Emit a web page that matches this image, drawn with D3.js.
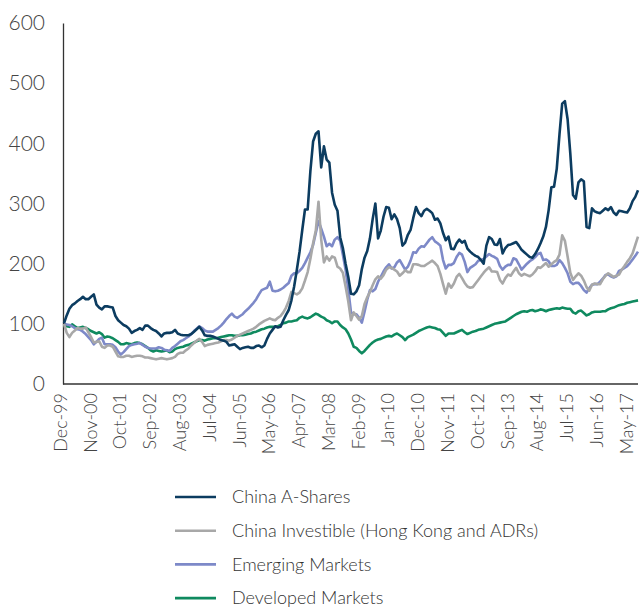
<!DOCTYPE html>
<html><head><meta charset="utf-8">
<script src="https://cdn.jsdelivr.net/npm/d3@7"></script>
<style>
html,body{margin:0;padding:0;background:#fff;}
svg{display:block;font-family:"Lato","Open Sans",sans-serif;font-weight:300;}
</style></head>
<body><svg id="c" width="640" height="607"></svg>
<script>
// Monthly index values, Dec-99 = 100, through Aug-17
const tickLabels = ["Dec-99","Nov-00","Oct-01","Sep-02","Aug-03","Jul-04","Jun-05","May-06","Apr-07","Mar-08","Feb-09","Jan-10","Dec-10","Nov-11","Oct-12","Sep-13","Aug-14","Jul-15","Jun-16","May-17"];
const yTicks = [0,100,200,300,400,500,600];
const seriesNames = ["China A-Shares","China Investible (Hong Kong and ADRs)","Emerging Markets","Developed Markets"];

const chinaA = [101,114,125,131,134,138,141,145,141,141,145,149,132,127,124,129,129,128,127,113,106,102,98,96,92,85,88,90,93,90,97,97,93,90,88,84,79,84,85,85,86,90,84,82,81,81,81,83,87,91,95,89,81,80,80,79,77,75,73,72,70,64,65,66,62,58,60,61,62,60,60,63,64,61,64,75,84,90,96,94,95,106,115,123,139,162,190,220,256,290,290,354,403,416,420,360,395,373,368,318,298,288,244,226,200,178,150,149,154,164,191,210,221,242,274,300,242,255,278,294,293,274,282,274,259,230,235,248,256,276,294,284,279,288,291,288,284,273,275,267,251,239,245,225,224,234,240,235,238,225,220,216,213,211,206,200,230,244,241,232,231,241,217,226,231,232,234,236,230,223,219,215,211,210,216,224,234,245,261,289,327,328,358,415,466,470,440,383,314,308,335,340,337,261,259,292,287,285,284,288,292,289,294,285,281,288,287,286,285,292,304,311,322];

const chinaInv = [100,85,78,85,89,93,92,92,94,86,78,69,70,71,62,60,64,64,62,54,46,45,45,47,47,45,46,47,47,46,44,44,43,42,41,42,43,42,41,42,43,45,50,52,52,56,59,64,68,72,75,70,63,65,66,67,68,69,71,73,73,72,74,77,80,82,84,86,88,90,92,95,99,102,105,107,109,107,106,110,113,119,127,138,153,151,149,152,159,172,186,208,234,255,303,240,202,212,205,212,210,195,192,185,162,137,106,119,113,107,113,133,144,153,164,174,179,175,181,190,194,193,190,187,180,184,189,186,186,199,199,198,196,196,199,202,205,201,196,183,166,150,167,160,167,178,183,176,168,162,160,161,167,173,179,185,190,194,187,187,186,173,167,176,182,180,187,193,184,180,183,181,179,182,187,194,193,197,201,195,199,203,206,215,247,238,212,185,173,179,184,180,172,161,155,165,167,166,166,174,180,184,181,178,180,182,190,196,203,209,217,231,245];

const emerging = [100,99,98,96,93,91,90,87,83,78,73,66,70,75,77,66,66,66,65,61,54,49,53,58,63,65,66,67,68,65,62,60,59,59,59,61,60,57,56,55,60,63,67,71,73,76,79,83,88,92,96,93,89,87,87,87,90,93,97,102,108,113,117,112,110,113,116,121,125,130,135,141,149,156,158,160,170,155,154,155,157,160,164,168,180,184,184,188,193,201,210,219,231,251,271,258,245,229,233,229,240,244,238,215,190,157,119,116,116,110,102,120,140,156,154,158,170,178,187,194,199,192,194,202,206,198,190,195,205,219,218,225,229,228,234,240,244,237,234,230,206,192,198,198,201,211,218,215,203,186,193,196,199,205,206,208,212,216,213,211,208,196,190,195,198,198,209,207,199,190,195,200,204,207,211,216,218,206,207,204,196,196,198,206,201,193,184,170,166,168,168,163,156,152,159,165,166,166,170,175,181,182,179,177,179,188,190,193,196,201,207,213,220];

const developed = [98,96,95,99,96,93,94,95,93,91,88,86,84,86,83,77,79,78,76,73,70,66,66,68,67,66,68,69,68,66,63,60,56,54,56,55,54,55,56,53,54,58,60,61,62,64,65,67,69,71,73,73,72,74,75,76,76,77,78,79,80,81,81,80,80,81,81,82,83,84,86,87,89,91,92,94,95,95,95,96,98,101,102,104,104,105,106,110,112,110,109,111,114,117,115,112,110,106,104,101,104,104,98,94,91,84,74,62,60,55,51,55,60,65,69,72,74,75,77,79,80,79,82,84,81,78,73,78,80,82,85,88,90,92,94,95,94,93,91,90,85,80,84,84,84,86,88,90,86,83,85,87,88,90,91,92,94,96,98,100,101,102,103,104,107,110,113,116,118,120,121,120,122,123,121,122,124,123,121,123,124,125,126,125,127,126,125,125,119,117,121,122,118,114,116,119,120,120,120,121,121,124,126,127,129,131,132,133,135,136,137,138,139];

const colors = ["#0c3c60","#a8a8a8","#7d89c8","#0f8a5f"];
const allSeries = [chinaA, chinaInv, emerging, developed];

const svg = d3.select("#c");
const x = d3.scaleLinear().domain([0, chinaA.length - 1]).range([64, 638]);
const y = d3.scaleLinear().domain([0, 600]).range([384, 23]);

// axes
const yAxis = d3.axisLeft(y).tickValues(yTicks).tickSize(0).tickPadding(18);
const gy = svg.append("g").attr("transform","translate(63,0)").call(yAxis);
gy.select(".domain").attr("stroke","#333").attr("stroke-width",1.3);
gy.selectAll("text").attr("font-size",21).attr("fill","#444")
  .attr("font-family","Lato, sans-serif").attr("font-weight",300);

const xAxis = d3.axisBottom(x).tickValues(tickLabels.map((d,i)=>i*11)).tickFormat((d,i)=>tickLabels[i]).tickSize(0).tickSizeOuter(0);
const gx = svg.append("g").attr("transform","translate(0,384)").call(xAxis);
gx.select(".domain").attr("d","M63,0H638").attr("stroke","#333").attr("stroke-width",1.3);
gx.selectAll("text").attr("font-size",18).attr("fill","#444")
  .attr("font-family","Lato, sans-serif").attr("font-weight",300)
  .attr("text-anchor","end").attr("transform","rotate(-90)")
  .attr("x",-9).attr("y",-4).attr("dy","0.35em");

// lines
const line = d3.line().x((d,i)=>x(i)).y(d=>y(d));
[3,2,1,0].forEach(k=>{
  svg.append("path").datum(allSeries[k]).attr("d",line)
    .attr("fill","none").attr("stroke",colors[k]).attr("stroke-width",2.6)
    .attr("stroke-linejoin","round");
});

// legend
const lg = svg.append("g");
seriesNames.forEach((n,i)=>{
  const yy = 497 + i*33.7;
  lg.append("line").attr("x1",175).attr("x2",216).attr("y1",yy).attr("y2",yy)
    .attr("stroke",colors[i]).attr("stroke-width",2.6);
  lg.append("text").attr("x",232).attr("y",yy).attr("dy","0.35em")
    .attr("font-size",18).attr("font-weight",300).attr("fill","#333").text(n);
});
</script></body></html>
